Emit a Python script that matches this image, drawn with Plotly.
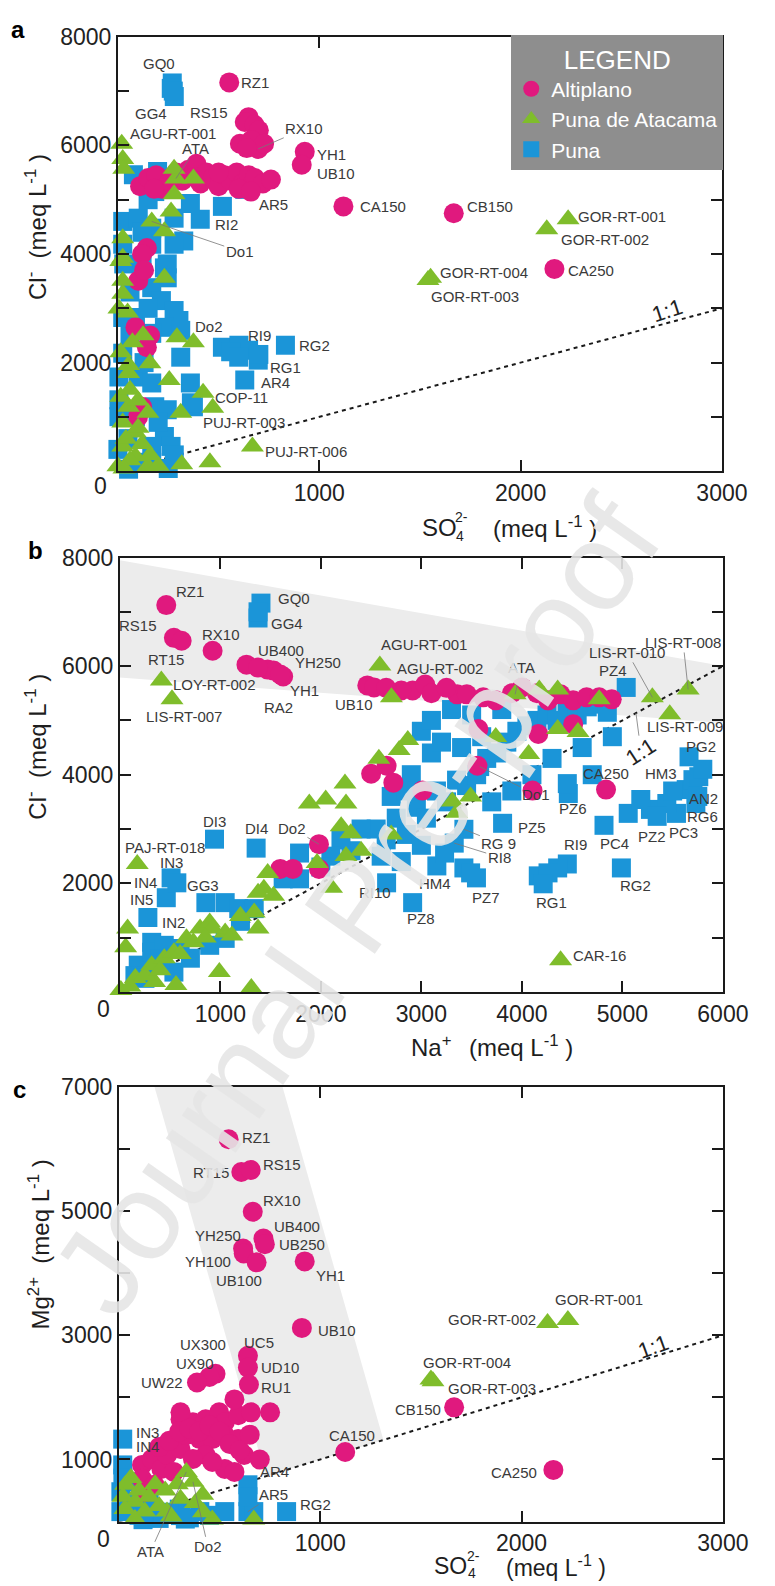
import plotly.graph_objects as go

W, H = 775, 1586
FONT = "Arial, Liberation Sans, Helvetica, sans-serif"

COL = {"alt": "#E0197E", "pda": "#7FBD2B", "pun": "#1B95D8"}
SERIES_NAME = {"alt": "Altiplano", "pda": "Puna de Atacama", "pun": "Puna"}
SYMBOL = {"alt": "circle", "pda": "triangle-up", "pun": "square"}
MSIZE = {"alt": 20, "pda": 20, "pun": 19}
RANK = {"alt": 1, "pda": 2, "pun": 3}
DRAW_ORDER = ["pun", "alt", "pda"]

# ---------------- Panel a : SO4 (x) vs Cl (y), meq/L ----------------
A_ALT_NAMES = ["RZ1", "RS15", "RX10", "YH1", "UB10", "CA150", "CB150", "CA250"]
A_ALT_NX = [553, 649, 697, 928, 913, 1120, 1668, 2168]
A_ALT_NY = [7160, 6520, 5936, 5881, 5643, 4877, 4750, 3726]
A_ALT_X = [630, 678, 700, 606, 663, 726, 640,
           110, 150, 190, 220, 260, 290, 320, 350, 390, 380, 410, 440, 470, 500, 530, 560, 590, 620, 650, 680, 720, 760, 600, 660, 500, 250, 180,
           144, 120, 101, 87, 144, 120, 130, 160, 100]
A_ALT_Y = [6430, 6380, 6280, 6030, 6100, 6030, 5950,
           5250, 5400, 5450, 5200, 5400, 5500, 5350, 5550, 5660, 5420, 5300, 5500, 5400, 5250, 5450, 5350, 5500, 5300, 5450, 5400, 5300, 5370, 5200, 5150, 5500, 5300, 5200,
           4110, 4000, 3507, 2650, 2283, 1187, 3700, 2500, 1000]

A_PUN_NAMES = ["GQ0", "GG4", "RI2", "AR5", "RI9", "RG2", "RG1", "AR4"]
A_PUN_NX = [270, 280, 409, 630, 649, 832, 697, 630]
A_PUN_NY = [7150, 6900, 4640, 5190, 2228, 2320, 2046, 1680]
A_PUN_X = [265, 275, 519, 601, 560, 600, 700, 519,
           77, 197, 183, 24, 101, 24, 168, 168, 279, 360, 327, 279, 29, 120, 245, 231, 245, 168, 216, 279,
           303, 231, 312, 24, 87, 168, 312, 24, 5, 101, 168, 5, 183, 245, 375, 360, 365, 5, 87, 231,
           264, 168, 0, 120, 168, 53, 200, 150, 120, 60, 150, 60, 130, 50, 200, 280, 250]
A_PUN_Y = [7050, 7000, 2283, 2320, 2200, 2100, 2150, 4877,
           5460, 5520, 5150, 4600, 4660, 4180, 4475, 4180, 4660, 4930, 4240, 4180, 3817, 3817, 3817, 3744, 3562, 3380, 3142, 2959,
           2776, 2650, 2594, 2831, 2831, 2539, 2100, 2173, 1735, 1735, 1625, 1315, 1187, 1132, 1187, 1625, 1260, 1005, 1005, 639,
           457, 457, 402, 164, 164, 37, 5300, 5000, 4400, 3300, 3000, 2500, 2000, 600, 900, 300, 50]

A_PDA_NAMES = ["AGU-RT-001", "ATA", "Do1", "Do2", "COP-11", "PUJ-RT-003", "PUJ-RT-006",
               "GOR-RT-001", "GOR-RT-002", "GOR-RT-004", "GOR-RT-003"]
A_PDA_NX = [19, 288, 168, 375, 423, 471, 668, 2236, 2130, 1553, 1540]
A_PDA_NY = [6030, 5390, 4600, 2374, 1443, 1169, 457, 4640, 4457, 3562, 3520]
A_PDA_X = [24, 29, 279, 375, 279, 264, 231, 24, 24, 14, 24, 24, 5, 48, 231, 293, 125, 72, 14, 53,
           159, 53, 255, 312, 149, 14, 53, 24, 87, 24, 87, 149, 317, 457, 0, 60, 100, 40, 120, 60,
           200, 30, 100, 160]
A_PDA_Y = [5750, 5570, 5570, 5390, 5100, 4785, 4420, 4290, 3930, 3870, 3507, 3270, 2995, 2922, 3562, 2466, 2502, 2374, 2192, 1954,
           1990, 1808, 1680, 1078, 1078, 1370, 1187, 895, 712, 457, 274, 91, 128, 164, 91, 1500, 1300, 600, 500, 200,
           100, 50, 800, 300]

# ---------------- Panel b : Na (x) vs Cl (y) ----------------
B_ALT_NAMES = ["RZ1", "RS15", "RT15", "RX10", "UB400", "RA2", "YH250", "YH1", "UB10", "CA250", "Do2"]
B_ALT_NX = [462, 538, 615, 923, 1260, 1471, 1529, 1625, 2462, 4837, 1981]
B_ALT_NY = [7123, 6520, 6466, 6283, 6027, 5936, 5918, 5808, 5644, 3726, 2721]
B_ALT_X = [1375, 1596, 2529, 2913, 3038, 3356, 3452, 3615, 3740, 4000, 4260, 4385, 4510, 4644, 4769, 4894, 3100, 3250, 3900, 4150,
           3567, 4163, 4510, 2500, 2654, 2721, 3010, 3558, 4106, 1596, 1721, 1981, 2800, 2650]
B_ALT_Y = [5973, 5845, 5607, 5553, 5662, 5480, 5480, 5425, 5370, 5607, 5370, 5480, 5370, 5425, 5425, 5388, 5500, 5600, 5500, 5500,
           4840, 4749, 4931, 4018, 4164, 3854, 3708, 4164, 3708, 2265, 2265, 2265, 5550, 5600]

B_PUN_NAMES = ["GQ0", "GG4", "DI3", "DI4", "IN3", "IN4", "IN5", "IN2", "GG3", "RI10", "HM4", "PZ8", "PZ7", "RG 9", "RI8",
               "PZ5", "Do1", "PZ6", "RI9", "RG1", "PC4", "RG2", "PZ2", "PC3", "RG6", "AN2", "HM3", "PZ4", "PG2"]
B_PUN_NX = [1404, 1375, 942, 1356, 510, 462, 279, 317, 856, 2654, 3154, 2913, 3548, 3423, 3327,
            3808, 3580, 4462, 4452, 4163, 4817, 4990, 5279, 5538, 5731, 5635, 5702, 5038, 5663]
B_PUN_NY = [7160, 6886, 2813, 2648, 2100, 1735, 1370, 913, 1644, 2009, 2320, 1644, 2100, 2995, 2740,
            3105, 4150, 3653, 2356, 2137, 3068, 2283, 3361, 3288, 3470, 3726, 3909, 5607, 4329]
B_PUN_X = [1375, 567, 4452, 3423, 3490, 3231, 4356, 4260, 4212, 5058, 5183, 5442, 5346, 5760, 5800, 5750, 5500, 1048, 1183, 1337,
           183, 317, 442, 538, 702, 894, 1048, 1625, 1788, 1788, 150, 250, 400, 600, 1200,
           2550, 2650, 2750, 2850, 2950, 3050, 3150, 3250, 3350, 3450, 3550, 3650, 3750, 3850, 3950, 4050, 4150, 4250, 4350, 4450,
           4550, 4650, 4750, 4850, 3000, 3100, 3300, 3500, 3800, 2700, 2900, 3100, 3200, 2600, 2800, 3000, 2400, 2300, 2200, 2100,
           2000, 3700, 3900, 4100, 4300, 4600, 4700, 4900, 2850, 3400, 3600]
B_PUN_Y = [7000, 2009, 3836, 2283, 2192, 2557, 2283, 2192, 1991, 3288, 3543, 3470, 3233, 3963, 4100, 3600, 3700, 1644, 1534, 1534,
           493, 730, 858, 365, 621, 858, 986, 2082, 2082, 2557, 300, 250, 600, 800, 1300,
           3000, 2800, 3200, 2900, 3400, 3200, 3700, 3500, 3900, 3800, 4000, 4300, 4400, 4600, 4800, 4900, 5000, 5100, 5000, 5200,
           5100, 5250, 5300, 5150, 4800, 5000, 5200, 5100, 5200, 3600, 4000, 4400, 4600, 2500, 2400, 2700, 3000, 2600, 2800, 2500,
           2300, 3500, 3700, 4000, 4300, 4500, 4000, 4700, 3700, 4500, 4700]

B_PDA_NAMES = ["AGU-RT-001", "AGU-RT-002", "ATA", "LIS-RT-010", "LIS-RT-008", "LIS-RT-009", "LOY-RT-002", "LIS-RT-007",
               "PAJ-RT-018", "CAR-16"]
B_PDA_NX = [2587, 2702, 3933, 5298, 5654, 5471, 413, 519, 173, 4385]
B_PDA_NY = [6009, 5425, 5480, 5425, 5570, 5114, 5735, 5388, 2356, 584]
B_PDA_X = [4173, 4356, 4769, 3740, 4067, 4356, 4558, 2865, 2779, 2577, 3308, 3490, 77, 58, 990, 1308, 1375, 1337, 1471, 1433,
           1375, 1529, 1885, 2048, 2240, 2250, 2202, 2298, 2250, 1962, 2106, 10, 154, 317, 442, 538, 663, 798, 894, 1048,
           1115, 731, 346, 558, 923, 100, 250, 400, 600, 850, 1200, 2400, 2700, 3350]
B_PDA_Y = [5570, 5570, 5388, 4694, 4383, 4840, 4785, 4640, 4457, 4292, 3507, 3598, 1169, 822, 365, 73, 1169, 1461, 2192, 1900,
           1826, 1772, 3470, 3543, 3836, 3470, 3050, 2922, 2502, 2374, 1918, 37, 256, 493, 621, 730, 986, 1169, 1279, 1096,
           1041, 913, 183, 128, 1169, 100, 300, 400, 700, 1000, 1400, 2600, 2900, 3300]

# ---------------- Panel c : SO4 (x) vs Mg (y) ----------------
C_ALT_NAMES = ["RZ1", "RT15", "RS15", "RX10", "UB400", "UB250", "YH250", "YH100", "UB100", "YH1", "UB10", "UC5", "UD10",
               "RU1", "UX300", "UX90", "UW22", "CA150", "CB150", "CA250"]
C_ALT_NX = [545, 608, 655, 665, 718, 725, 617, 620, 684, 923, 909, 641, 641, 646, 480, 450, 388, 1124, 1665, 2158]
C_ALT_NY = [6160, 5632, 5664, 4992, 4560, 4470, 4400, 4320, 4176, 4192, 3120, 2672, 2480, 2208, 2380, 2330, 2240, 1120, 1840, 832]
C_ALT_X = [115, 163, 211, 115, 177, 239, 306, 306, 368, 431, 498, 526, 593, 656, 751, 574, 402, 464, 526, 593,
           622, 526, 574, 431, 368, 335, 464, 273, 129, 306, 200, 250, 300, 350, 400, 450, 500, 550, 600, 650, 700]
C_ALT_Y = [912, 1008, 848, 688, 592, 1072, 1168, 1648, 1600, 1648, 1760, 1600, 1712, 1760, 1760, 1968, 1328, 1328, 1392, 1328,
           1072, 848, 800, 1072, 1008, 1392, 960, 800, 480, 1760, 1200, 1300, 1450, 1500, 1450, 1550, 1450, 1250, 1150, 1400, 1000]

C_PUN_NAMES = ["IN3", "IN4", "AR4", "AR5", "RG2"]
C_PUN_NX = [19, 19, 641, 641, 833]
C_PUN_NY = [1328, 912, 592, 160, 160]
C_PUN_X = [10, 10, 526, 670, 402, 306, 641, 100, 200, 300, 150, 250, 450, 350, 60, 50, 20, 120, 220, 330]
C_PUN_Y = [480, 160, 160, 160, 160, 96, 400, 100, 50, 200, 300, 150, 100, 60, 640, 300, 700, 30, 120, 40]

C_PDA_NAMES = ["ATA", "Do2", "GOR-RT-002", "GOR-RT-001", "GOR-RT-004", "GOR-RT-003"]
C_PDA_NX = [335, 368, 2129, 2230, 1550, 1560]
C_PDA_NY = [800, 640, 3200, 3248, 2288, 2260]
C_PDA_X = [416, 464, 670, 33, 81, 129, 239, 306, 60, 100, 150, 200, 260, 30, 80, 180, 230, 290, 380, 420, 20]
C_PDA_Y = [432, 32, 32, 592, 320, 160, 160, 368, 700, 500, 400, 250, 80, 200, 40, 600, 500, 600, 300, 150, 400]

# axis ranges and ticks
A_XRANGE, A_YRANGE = [0, 3000], [0, 8000]
B_XRANGE, B_YRANGE = [0, 6000], [0, 8000]
C_XRANGE, C_YRANGE = [0, 3000], [0, 7000]
A_XTICKS = [0, 1000, 2000, 3000]; A_XTEXT = ["", "1000", "2000", "3000"]
A_YTICKS = [0, 1000, 2000, 3000, 4000, 5000, 6000, 7000, 8000]
A_YTEXT = ["", "", "2000", "", "4000", "", "6000", "", "8000"]
B_XTICKS = [0, 1000, 2000, 3000, 4000, 5000, 6000]
B_XTEXT = ["", "1000", "2000", "3000", "4000", "5000", "6000"]
B_YTICKS = A_YTICKS; B_YTEXT = A_YTEXT
C_XTICKS = A_XTICKS; C_XTEXT = A_XTEXT
C_YTICKS = [0, 1000, 2000, 3000, 4000, 5000, 6000, 7000]
C_YTEXT = ["", "1000", "", "3000", "", "5000", "", "7000"]

# 1:1 reference lines
ONE_A = [0, 3000]
ONE_B = [0, 6000]
ONE_C = [0, 3000]

# shaded fields
B_BAND_X = [0, 6000, 6000, 0]
B_BAND_Y = [7950, 6000, 4950, 5790]
C_BAND_X = [177, 813, 1314, 730]
C_BAND_Y = [7000, 7000, 1314, 730]

# label placement: (series, name, dx px, dy px (down), anchor)
LAB_A = [("pun", "GQ0", -13, -19, "center"), ("pun", "GG4", -23, 17, "center"),
         ("alt", "RZ1", 10, 0, "left"), ("alt", "RS15", -19, -5, "right"),
         ("alt", "YH1", 10, 3, "left"), ("alt", "UB10", 13, 9, "left"),
         ("alt", "CA150", 15, 0, "left"), ("alt", "CB150", 11, -7, "left"), ("alt", "CA250", 12, 2, "left"),
         ("pda", "AGU-RT-001", 6, -10, "left"), ("pun", "AR5", 12, 15, "left"), ("pun", "RI2", 13, 5, "left"),
         ("pda", "Do2", 0, -16, "left"), ("pun", "RI9", 11, -15, "center"), ("pun", "RG2", 12, 0, "left"),
         ("pun", "RG1", 10, 7, "left"), ("pun", "AR4", 14, 3, "left"), ("pda", "COP-11", 10, 5, "left"),
         ("pda", "PUJ-RT-003", -12, 15, "left"), ("pda", "PUJ-RT-006", 11, 5, "left"),
         ("pda", "GOR-RT-001", 8, -3, "left"), ("pda", "GOR-RT-002", 12, 10, "left"),
         ("pda", "GOR-RT-004", 7, -5, "left"), ("pda", "GOR-RT-003", 1, 16, "left")]
LEAD_A = [("alt", "RX10", 46, -20), ("pda", "ATA", 20, -30), ("pda", "Do1", 88, 30)]

LAB_B = [("alt", "RZ1", 8, -14, "left"), ("alt", "RS15", -15, -12, "right"), ("alt", "RT15", -16, 19, "center"),
         ("alt", "RX10", 8, -16, "center"), ("alt", "UB400", 10, -14, "left"), ("alt", "YH250", 19, -8, "left"),
         ("alt", "YH1", 5, 14, "left"), ("alt", "RA2", 11, 38, "center"), ("alt", "UB10", -13, 19, "center"),
         ("alt", "CA250", 0, -16, "center"),
         ("pun", "GQ0", 15, -5, "left"), ("pun", "GG4", 11, 6, "left"), ("pun", "DI3", 0, -18, "center"),
         ("pun", "DI4", 0, -20, "center"), ("pun", "IN3", 0, -15, "center"), ("pun", "IN4", -7, -15, "right"),
         ("pun", "IN5", 7, -18, "right"), ("pun", "IN2", 8, -20, "left"), ("pun", "GG3", -3, -17, "center"),
         ("pun", "RI10", -12, 10, "center"), ("pun", "HM4", -2, 18, "center"), ("pun", "PZ8", 8, 16, "center"),
         ("pun", "PZ7", 10, 20, "center"), ("pun", "PZ5", 13, 4, "left"), ("pun", "PZ6", 5, 15, "center"),
         ("pun", "RI9", 8, -19, "center"), ("pun", "RG1", 13, 27, "center"), ("pun", "PC4", 10, 18, "center"),
         ("pun", "RG2", 14, 18, "center"), ("pun", "PZ2", 2, 27, "center"), ("pun", "PC3", 7, 19, "center"),
         ("pun", "RG6", 7, 13, "center"), ("pun", "AN2", 17, 9, "center"), ("pun", "HM3", -32, -6, "center"),
         ("pun", "PZ4", -13, -17, "center"), ("pun", "PG2", 12, -10, "center"),
         ("pda", "AGU-RT-001", -1, -21, "left"), ("pda", "AGU-RT-002", 4, -29, "left"),
         ("pda", "LIS-RT-009", 15, 12, "center"), ("pda", "LOY-RT-002", 10, 4, "left"),
         ("pda", "LIS-RT-007", -28, 17, "left"), ("pda", "PAJ-RT-018", 28, -16, "center"),
         ("pda", "CAR-16", 10, -5, "left")]
LEAD_B = [("alt", "Do2", -27, -16), ("pun", "RG 9", 35, 14), ("pun", "RI8", 45, 14), ("pun", "Do1", 56, 28),
          ("pda", "ATA", 6, -27), ("pda", "LIS-RT-010", -25, -45), ("pda", "LIS-RT-008", -5, -47)]

LAB_C = [("alt", "RZ1", 11, -2, "left"), ("alt", "RT15", -10, 0, "right"), ("alt", "RS15", 10, -6, "left"),
         ("alt", "RX10", 8, -11, "left"), ("alt", "UB400", 9, -12, "left"), ("alt", "UB250", 12, 0, "left"),
         ("alt", "YH250", -25, -13, "center"), ("alt", "YH100", -36, 8, "center"), ("alt", "UB100", -18, 18, "center"),
         ("alt", "YH1", 9, 14, "left"), ("alt", "UB10", 14, 3, "left"), ("alt", "UC5", 11, -13, "center"),
         ("alt", "UD10", 11, 0, "left"), ("alt", "RU1", 10, 3, "left"), ("alt", "UX300", -13, -29, "center"),
         ("alt", "UX90", -14, -13, "center"), ("alt", "UW22", -12, 0, "right"), ("alt", "CA150", 7, -17, "center"),
         ("alt", "CB150", -11, 2, "right"), ("alt", "CA250", -14, 3, "right"),
         ("pun", "IN3", 11, -7, "left"), ("pun", "IN4", 11, -18, "left"), ("pun", "AR4", 10, -13, "left"),
         ("pun", "RG2", 11, -7, "left"),
         ("pda", "GOR-RT-002", -10, -3, "right"), ("pda", "GOR-RT-001", 31, -20, "center"),
         ("pda", "GOR-RT-004", 36, -17, "center"), ("pda", "GOR-RT-003", 13, 7, "left")]
LEAD_C = [("pun", "AR5", 26, -17), ("pda", "ATA", -36, 80), ("pda", "Do2", 15, 65)]

PANELS = [
    dict(xa="x", ya="y", labels=LAB_A, leaders=LEAD_A, one=ONE_A,
         series={"alt": (A_ALT_NX, A_ALT_NY, A_ALT_NAMES, A_ALT_X, A_ALT_Y),
                 "pun": (A_PUN_NX, A_PUN_NY, A_PUN_NAMES, A_PUN_X, A_PUN_Y),
                 "pda": (A_PDA_NX, A_PDA_NY, A_PDA_NAMES, A_PDA_X, A_PDA_Y)}),
    dict(xa="x2", ya="y2", labels=LAB_B, leaders=LEAD_B, one=ONE_B,
         series={"alt": (B_ALT_NX, B_ALT_NY, B_ALT_NAMES, B_ALT_X, B_ALT_Y),
                 "pun": (B_PUN_NX, B_PUN_NY, B_PUN_NAMES, B_PUN_X, B_PUN_Y),
                 "pda": (B_PDA_NX, B_PDA_NY, B_PDA_NAMES, B_PDA_X, B_PDA_Y)}),
    dict(xa="x3", ya="y3", labels=LAB_C, leaders=LEAD_C, one=ONE_C,
         series={"alt": (C_ALT_NX, C_ALT_NY, C_ALT_NAMES, C_ALT_X, C_ALT_Y),
                 "pun": (C_PUN_NX, C_PUN_NY, C_PUN_NAMES, C_PUN_X, C_PUN_Y),
                 "pda": (C_PDA_NX, C_PDA_NY, C_PDA_NAMES, C_PDA_X, C_PDA_Y)}),
]

fig = go.Figure()
annotations = []
LABEL_FONT = dict(family=FONT, size=15, color="#3a3a3a")

for pi, p in enumerate(PANELS):
    fig.add_trace(go.Scatter(x=p["one"], y=p["one"], mode="lines", showlegend=False, hoverinfo="skip",
                             line=dict(color="#1a1a1a", width=2, dash="4px,4px"),
                             xaxis=p["xa"], yaxis=p["ya"]))
    for s in DRAW_ORDER:
        nx, ny, nn, ux, uy = p["series"][s]
        fig.add_trace(go.Scatter(
            x=list(nx) + list(ux), y=list(ny) + list(uy), mode="markers",
            name=SERIES_NAME[s], legendgroup=s, legendrank=RANK[s], showlegend=(pi == 0),
            marker=dict(color=COL[s], symbol=SYMBOL[s], size=MSIZE[s], line=dict(width=0)),
            cliponaxis=False, xaxis=p["xa"], yaxis=p["ya"]))
    for s, name, dx, dy, anc in p["labels"]:
        nx, ny, nn, _, _ = p["series"][s]
        i = nn.index(name)
        annotations.append(dict(x=nx[i], y=ny[i], xref=p["xa"], yref=p["ya"], text=name, showarrow=False,
                                xanchor=anc, yanchor="middle", xshift=dx, yshift=-dy, font=LABEL_FONT))
    for s, name, ax, ay in p["leaders"]:
        nx, ny, nn, _, _ = p["series"][s]
        i = nn.index(name)
        annotations.append(dict(x=nx[i], y=ny[i], xref=p["xa"], yref=p["ya"], text=name, showarrow=True,
                                arrowhead=0, arrowwidth=0.8, arrowcolor="#777777", ax=ax, ay=ay,
                                font=LABEL_FONT))

# 1:1 labels
ONE_FONT = dict(family=FONT, size=22, color="#222")
annotations.append(dict(x=2731, y=2731, xref="x", yref="y", text="1:1", showarrow=False, textangle=-18,
                        yshift=12, font=ONE_FONT))
annotations.append(dict(x=5135, y=5135, xref="x2", yref="y2", text="1:1", showarrow=True, arrowhead=0,
                        arrowwidth=0.8, arrowcolor="#777", ax=5, ay=38, textangle=-33, font=ONE_FONT))
annotations.append(dict(x=2656, y=2656, xref="x3", yref="y3", text="1:1", showarrow=False, textangle=-20,
                        yshift=10, font=ONE_FONT))


def P(px, py):
    return px / W, 1 - py / H


def txt(px, py, text, size, anchor="left", angle=0, color="#1e1e1e"):
    x, y = P(px, py)
    annotations.append(dict(x=x, y=y, xref="paper", yref="paper", text=text, showarrow=False,
                            xanchor=anchor, yanchor="middle", textangle=angle,
                            font=dict(family=FONT, size=size, color=color)))


# zero labels at the corners
txt(104, 477, "0", 23, "center")
txt(107, 1004, "0", 23, "center")
txt(107, 1539, "0", 23, "center")

# panel letters
txt(19, 17, "<b>a</b>", 24, "center", color="#000")
txt(37, 542, "<b>b</b>", 24, "center", color="#000")
txt(20, 1085, "<b>c</b>", 24, "center", color="#000")

# x-axis titles
txt(435, 519, "SO", 24)
txt(469, 508, "2-", 14)
txt(470, 527, "4", 14)
txt(508, 518, "(meq L<sup>-1</sup> )", 24)

txt(423, 1042, "Na<sup>+</sup>", 24)
txt(483, 1042, "(meq L<sup>-1</sup> )", 24)

txt(447, 1566, "SO", 23)
txt(481, 1556, "2-", 14)
txt(482, 1573, "4", 14)
txt(521, 1566, "(meq L<sup>-1</sup> )", 23)

# y-axis titles
txt(37, 216, "Cl<sup>-</sup>  (meq L<sup>-1</sup> )", 24, "center", angle=-90)
txt(37, 740, "Cl<sup>-</sup>  (meq L<sup>-1</sup> )", 24, "center", angle=-90)
txt(40, 1242, "Mg<sup>2+</sup>  (meq L<sup>-1</sup> )", 24, "center", angle=-90)

# watermark
wx, wy = P(368, 900)
annotations.append(dict(x=wx, y=wy, xref="paper", yref="paper", xanchor="center", yanchor="middle",
                        text="Journal Pre-proof", showarrow=False, textangle=-55,
                        font=dict(family=FONT, size=124, color="rgba(229,229,229,0.9)")))


def band_path(xs, ys):
    pts = " L ".join(f"{x},{y}" for x, y in zip(xs, ys))
    return "M " + pts + " Z"


shapes = [
    dict(type="path", path=band_path(B_BAND_X, B_BAND_Y), xref="x2", yref="y2", layer="below",
         fillcolor="#ececec", line=dict(width=0)),
    dict(type="path", path=band_path(C_BAND_X, C_BAND_Y), xref="x3", yref="y3", layer="below",
         fillcolor="#ececec", line=dict(width=0)),
]


def axis(domain, rng, tv, tt, anchor):
    return dict(domain=domain, range=rng, tickvals=tv, ticktext=tt, anchor=anchor,
                showline=True, linecolor="#1a1a1a", linewidth=2, mirror="ticks",
                ticks="inside", ticklen=11, tickwidth=2, tickcolor="#1a1a1a",
                showgrid=False, zeroline=False, fixedrange=True,
                tickfont=dict(family=FONT, size=23, color="#222"))


fig.update_layout(
    width=W, height=H, margin=dict(l=0, r=0, t=0, b=0),
    paper_bgcolor="white", plot_bgcolor="white",
    font=dict(family=FONT),
    xaxis=axis([122 / W, 747 / W], A_XRANGE, A_XTICKS, A_XTEXT, "y"),
    yaxis=axis([1 - 462 / H, 1 - 24 / H], A_YRANGE, A_YTICKS, A_YTEXT, "x"),
    xaxis2=axis([124 / W, 748 / W], B_XRANGE, B_XTICKS, B_XTEXT, "y2"),
    yaxis2=axis([1 - 987 / H, 1 - 549 / H], B_YRANGE, B_YTICKS, B_YTEXT, "x2"),
    xaxis3=axis([123 / W, 748 / W], C_XRANGE, C_XTICKS, C_XTEXT, "y3"),
    yaxis3=axis([1 - 1521 / H, 1 - 1083 / H], C_YRANGE, C_YTICKS, C_YTEXT, "x3"),
    showlegend=True,
    legend=dict(x=529 / W, y=1 - 22 / H, xanchor="left", yanchor="top", bgcolor="#8e8e8e",
                borderwidth=0, font=dict(family=FONT, size=21, color="white"),
                title=dict(text="LEGEND", side="top center", font=dict(family=FONT, size=26, color="white")),
                itemsizing="trace", tracegroupgap=0),
    annotations=annotations,
    shapes=shapes,
)

fig.write_html("out.html")
